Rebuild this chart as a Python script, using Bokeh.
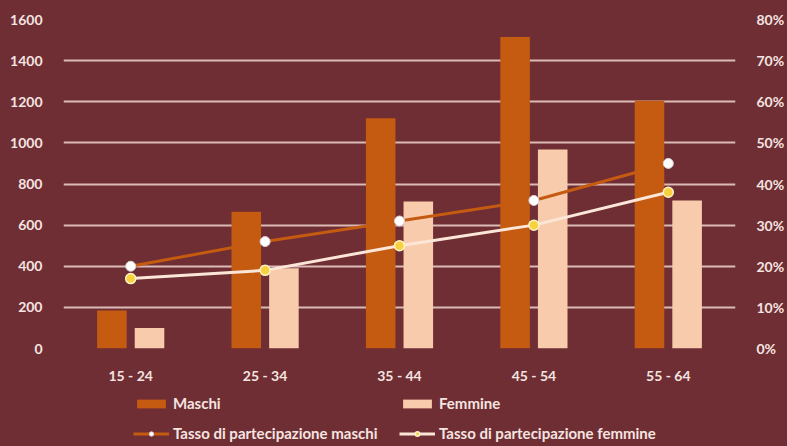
from bokeh.plotting import figure
from bokeh.layouts import column
from bokeh.models import (FactorRange, Range1d, LinearAxis, FixedTicker,
                          PrintfTickFormatter, Legend, LegendItem)
from bokeh.transform import dodge
from bokeh.embed import file_html
from bokeh.resources import INLINE

# Occupati per classe di età (migliaia) e tasso di partecipazione (%)
classi = ["15 - 24", "25 - 34", "35 - 44", "45 - 54", "55 - 64"]
maschi = [185, 665, 1120, 1515, 1205]
femmine = [100, 390, 715, 968, 720]
tasso_maschi = [20, 26, 31, 36, 45]
tasso_femmine = [17, 19, 25, 30, 38]

BG = "#6f2e33"
TXT = "#f5e4e1"
GRID = "#dcbab6"
ORANGE = "#c55a11"
PEACH = "#f8cbad"
LINE_F = "#fbe6d8"
FONT = "Lato"

data = dict(classi=classi, maschi=maschi, femmine=femmine,
            tm=tasso_maschi, tf=tasso_femmine)

bar_m = dict(fill_color=ORANGE, line_color=None)
bar_f = dict(fill_color=PEACH, line_color=None)
line_m = dict(line_color=ORANGE, line_width=3)
line_f = dict(line_color=LINE_F, line_width=3)
dot_m = dict(size=10, fill_color="#ffffff", line_color="#d9d2d6", line_width=1)
dot_f = dict(size=10, fill_color="#f7d23e", line_color="#fff3c8", line_width=1.5)

p = figure(x_range=FactorRange(*classi), y_range=Range1d(0, 1600),
           width=787, height=388, output_backend="svg", toolbar_location=None,
           min_border_left=63, min_border_right=50, min_border_top=19,
           min_border_bottom=40)
# transparent fills: the page itself carries the background colour
p.background_fill_alpha = 0
p.border_fill_alpha = 0
p.outline_line_color = None
p.extra_y_ranges = {"pct": Range1d(0, 80)}

p.vbar(x=dodge("classi", -0.14, range=p.x_range), top="maschi", width=0.22,
       source=data, **bar_m)
p.vbar(x=dodge("classi", 0.14, range=p.x_range), top="femmine", width=0.22,
       source=data, **bar_f)
p.line(x="classi", y="tm", source=data, y_range_name="pct", **line_m)
p.line(x="classi", y="tf", source=data, y_range_name="pct", **line_f)
p.scatter(x="classi", y="tm", source=data, y_range_name="pct", **dot_m)
p.scatter(x="classi", y="tf", source=data, y_range_name="pct", **dot_f)

# primary axis (left) and secondary percentage axis (right)
p.yaxis[0].ticker = FixedTicker(ticks=list(range(0, 1601, 200)))
ax2 = LinearAxis(y_range_name="pct", ticker=FixedTicker(ticks=list(range(0, 81, 10))),
                 formatter=PrintfTickFormatter(format="%d%%"))
p.add_layout(ax2, "right")

for a in [p.yaxis[0], ax2, p.xaxis[0]]:
    a.axis_line_color = None
    a.major_tick_line_color = None
    a.minor_tick_line_color = None
    a.major_label_text_color = TXT
    a.major_label_text_font = FONT
    a.major_label_text_font_style = "bold"
    a.major_label_text_font_size = "14px"
p.yaxis[0].major_label_standoff = 15
ax2.major_label_standoff = 15
p.xaxis[0].major_label_standoff = 12

p.xgrid.grid_line_color = None
p.ygrid.grid_line_color = GRID
p.ygrid.grid_line_width = 2
p.ygrid.ticker = FixedTicker(ticks=list(range(0, 1601, 200)))

# legend strip under the chart (its frame lines up with the chart's frame)
lg = figure(width=787, height=58, output_backend="svg", toolbar_location=None,
            x_range=Range1d(0, 1), y_range=Range1d(0, 1),
            min_border_left=0, min_border_right=0, min_border_top=0,
            min_border_bottom=0)
lg.axis.visible = False
lg.grid.visible = False
lg.background_fill_alpha = 0
lg.border_fill_alpha = 0
lg.outline_line_color = None

# off-range stand-ins that only feed the legend glyphs
r_bm = lg.vbar(x=[5], top=[5], bottom=[4], width=0.1, **bar_m)
r_bf = lg.vbar(x=[5], top=[5], bottom=[4], width=0.1, **bar_f)
r_lm = lg.line(x=[5, 6], y=[5, 6], **line_m)
r_lf = lg.line(x=[5, 6], y=[5, 6], **line_f)
r_dm = lg.scatter(x=[5], y=[5], **dict(dot_m, size=10))
r_df = lg.scatter(x=[5], y=[5], **dict(dot_f, size=10))

legend = Legend(items=[
    LegendItem(label="Maschi", renderers=[r_bm]),
    LegendItem(label="Tasso di partecipazione maschi", renderers=[r_lm, r_dm]),
    LegendItem(label="Femmine", renderers=[r_bf]),
    LegendItem(label="Tasso di partecipazione femmine", renderers=[r_lf, r_df]),
], ncols=2, location=(70, 4))
legend.background_fill_alpha = 0
legend.border_line_color = None
legend.label_text_color = TXT
legend.label_text_font = FONT
legend.label_text_font_style = "bold"
legend.label_text_font_size = "15px"
legend.glyph_width = 36
legend.glyph_height = 11
legend.label_height = 18
legend.label_width = 214
legend.label_standoff = 4
legend.spacing = 12
legend.padding = 0
legend.margin = 0
lg.add_layout(legend)

layout = column(p, lg, spacing=0)
html = file_html(layout, INLINE)
html = html.replace("<head>", "<head><style>html,body{background:%s;margin:0;}</style>" % BG, 1)
open("out.html", "w").write(html)
